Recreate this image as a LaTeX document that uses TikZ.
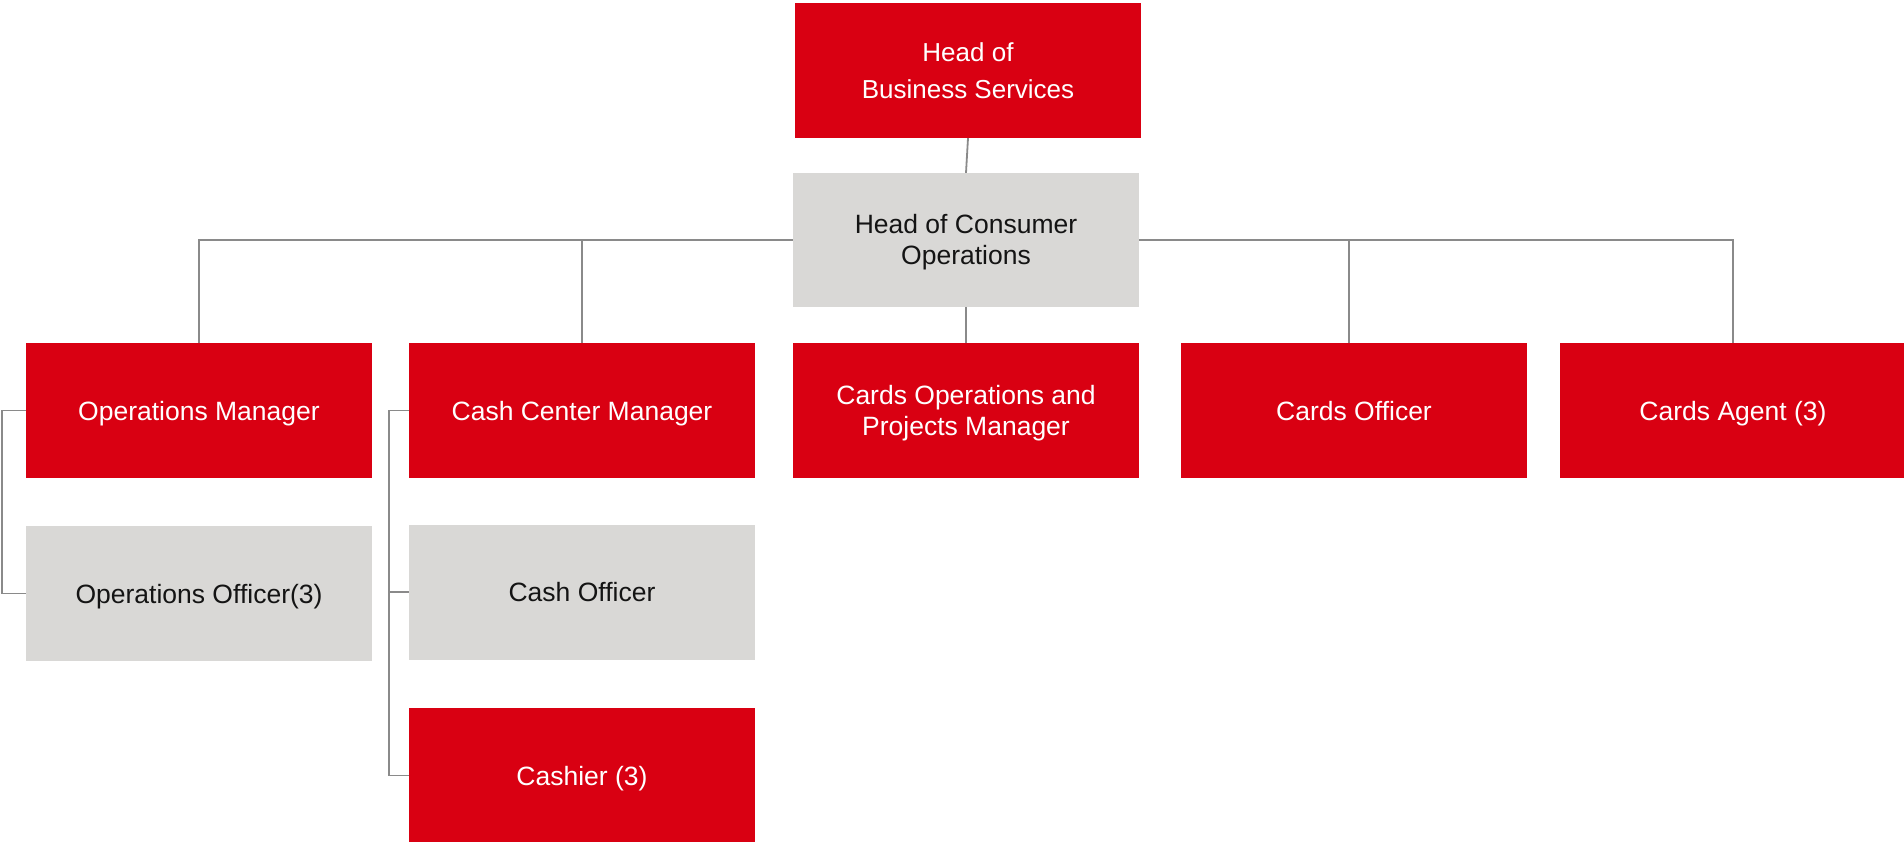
\documentclass[tikz,border=0pt]{standalone}
\usepackage{fontspec}
\setmainfont{Liberation Sans}
\definecolor{hred}{HTML}{D90012}
\definecolor{hgray}{HTML}{D9D8D6}
\definecolor{lgray}{HTML}{8A8A8A}
\begin{document}
\begin{tikzpicture}[x=1pt,y=-1pt,
  box/.style={rectangle, minimum width=346pt, minimum height=135pt, inner sep=0pt, align=center, text height=19pt, text depth=0pt, font=\fontsize{26.5}{31}\selectfont},
  twoline/.style={text height=50pt},
  redbox/.style={box, fill=hred, text=white},
  graybox/.style={box, fill=hgray, text=black!92},
  conn/.style={draw=lgray, line width=1.8pt}]
\useasboundingbox (0,0) rectangle (1904,842);
\node[redbox, font=\fontsize{26}{37}\selectfont, text height=55.6pt] (hb) at (968,70.5) {Head of\\Business Services};
\node[graybox, twoline, minimum height=134pt] (hc) at (966,240) {Head of Consumer\\Operations};
\node[redbox] (om) at (199,410.5) {Operations Manager};
\node[redbox] (ccm) at (582,410.5) {Cash Center Manager};
\node[redbox, twoline] (cop) at (966,410.5) {Cards Operations and\\Projects Manager};
\node[redbox] (co) at (1354,410.5) {Cards Officer};
\node[redbox] (ca) at (1733,410.5) {Cards Agent (3)};
\node[graybox] (oo) at (199,593.5) {Operations Officer(3)};
\node[graybox] (cof) at (582,592) {Cash Officer};
\node[redbox] (cs) at (582,775.5) {Cashier (3)};
\coordinate (cot) at ([xshift=-5pt]co.north);
\coordinate (lb) at (2,410.5);
\coordinate (cb) at (389,410.5);
\draw[conn] (hb.south) -- (hc.north);
\draw[conn] (hc.west) -| (om.north);
\draw[conn] (hc.west) -| (ccm.north);
\draw[conn] (hc.east) -| (cot);
\draw[conn] (hc.east) -| (ca.north);
\draw[conn] (hc.south) -- (cop.north);
\draw[conn] (om.west) -- (lb) |- (oo.west);
\draw[conn] (ccm.west) -- (cb) |- (cof.west);
\draw[conn] (cb) |- (cs.west);
\end{tikzpicture}
\end{document}
